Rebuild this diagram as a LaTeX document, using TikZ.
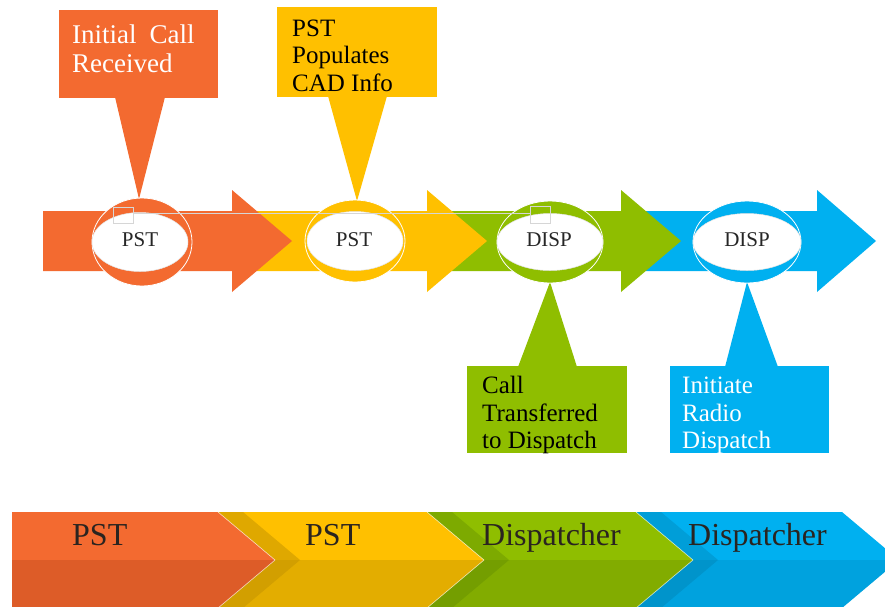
\documentclass[tikz,border=0pt]{standalone}
\usepackage{fontspec}
\setmainfont{Liberation Serif}
\definecolor{cor}{HTML}{F36A30}
\definecolor{cye}{HTML}{FFC000}
\definecolor{cgr}{HTML}{8FBE00}
\definecolor{cbl}{HTML}{00B0F0}
\definecolor{corD}{HTML}{DD5C28}
\definecolor{cyeD}{HTML}{E3AD00}
\definecolor{cgrD}{HTML}{82AC00}
\definecolor{cblD}{HTML}{00A2DE}
\definecolor{cyeS}{HTML}{DFA800}
\definecolor{cyeSD}{HTML}{D29F00}
\definecolor{cgrS}{HTML}{7DAA00}
\definecolor{cgrSD}{HTML}{749E00}
\definecolor{cblS}{HTML}{009ED8}
\definecolor{cblSD}{HTML}{0094CB}
\definecolor{seltone}{HTML}{D6D6D6}
\definecolor{bartext}{HTML}{2A2420}
\tikzset{
  calltext/.style={anchor=base west, inner sep=0pt, font=\fontsize{25}{28}\selectfont},
  bigcalltext/.style={anchor=base west, inner sep=0pt, font=\fontsize{27}{30}\selectfont, text=white},
  ringtext/.style={inner sep=0pt, font=\fontsize{21}{24}\selectfont, text=black!85},
  bartxt/.style={anchor=base west, inner sep=0pt, font=\fontsize{32}{38}\selectfont, text=bartext},
  edgeline/.style={draw=white, draw opacity=0.7, line width=0.6pt},
}
\begin{document}
\begin{tikzpicture}[x=1pt,y=-1pt]
\useasboundingbox (0,0) rectangle (885,606);
\clip (0,0) rectangle (885,606);
\fill[white] (0,0) rectangle (885,606);

% ---------- top arrows (drawn right to left so earlier heads overlap) ----------
\fill[cbl] (640,211) -- (817,211) -- (817,190) -- (876,241) -- (817,292) -- (817,271) -- (640,271) -- cycle;
\fill[cgr] (440,211) -- (621,211) -- (621,190) -- (681,241) -- (621,292) -- (621,271) -- (440,271) -- cycle;
\fill[cye] (240,211) -- (427,211) -- (427,190) -- (487,241) -- (427,292) -- (427,271) -- (240,271) -- cycle;
\fill[cor] (43,211) -- (232,211) -- (232,190) -- (292,241) -- (232,292) -- (232,271) -- (43,271) -- cycle;

% ---------- callouts ----------
\fill[cor] (59,10) rectangle (218,98);
\fill[cor] (115,97) -- (165,97) -- (139,199) -- cycle;
\fill[cye] (277,7) rectangle (437,97);
\fill[cye] (328,96) -- (387,96) -- (357,201) -- cycle;
\fill[cgr] (467,366) rectangle (627,453);
\fill[cgr] (550,282) -- (518,367) -- (577,367) -- cycle;
\fill[cbl] (670,366) rectangle (829,453);
\fill[cbl] (747,282) -- (725,367) -- (778,367) -- cycle;

% ---------- rings ----------
\fill[cor, draw=white, line width=0.8pt] (142,242) ellipse [x radius=50, y radius=44];
\fill[white, draw=white!90!black, line width=0.5pt] (140,242) ellipse [x radius=48, y radius=29.5];
\fill[cye, draw=white, line width=0.8pt] (355,241) ellipse [x radius=50, y radius=41];
\fill[white, draw=white!90!black, line width=0.5pt] (355,241) ellipse [x radius=48, y radius=29.5];
\fill[cgr, draw=white, line width=0.8pt] (550,242) ellipse [x radius=53, y radius=41];
\fill[white, draw=white!90!black, line width=0.5pt] (550,242) ellipse [x radius=53, y radius=28.5];
\fill[cbl, draw=white, line width=0.8pt] (747,242) ellipse [x radius=54, y radius=41];
\fill[white, draw=white!90!black, line width=0.5pt] (747,242) ellipse [x radius=54, y radius=28.5];

\node[ringtext] (r1) at (140,240) {PST};
\node[ringtext] (r2) at (354,240) {PST};
\node[ringtext] (r3) at (549,240) {DISP};
\node[ringtext] (r4) at (747,240) {DISP};

% ---------- selection marks ----------
\draw[seltone, line width=0.8pt] (133,213) -- (530,213);
\draw[seltone, line width=0.8pt] (113,207) rectangle (133,223);
\draw[seltone, line width=0.8pt] (530,206) rectangle (550,223);

% ---------- callout texts ----------
\node[bigcalltext] (o1) at (72,43) {Initial\hspace{13pt}Call};
\node[bigcalltext] (o2) at (72,72) {Received};
\node[calltext, text=black] (y1) at (292,36) {PST};
\node[calltext, text=black] (y2) at (292,63) {Populates};
\node[calltext, text=black] (y3) at (292,91) {CAD Info};
\node[calltext, text=black] (g1) at (482,393) {Call};
\node[calltext, text=black] (g2) at (482,421) {Transferred};
\node[calltext, text=black] (g3) at (482,448) {to Dispatch};
\node[calltext, text=white] (b1) at (682,393) {Initiate};
\node[calltext, text=white] (b2) at (682,421) {Radio};
\node[calltext, text=white] (b3) at (682,448) {Dispatch};

% ---------- bottom chevron bar ----------
% blue
\fill[cbl] (620,512) -- (842,512) -- (899,560) -- (620,560) -- cycle;
\fill[cblD] (620,560) -- (899,560) -- (842,608) -- (620,608) -- cycle;
\fill[cblS] (636,512) -- (661,512) -- (718,560) -- (693,560) -- cycle;
\fill[cblSD] (693,560) -- (718,560) -- (661,608) -- (636,608) -- cycle;
% green
\fill[cgr] (410,512) -- (636,512) -- (693,560) -- (410,560) -- cycle;
\fill[cgrD] (410,560) -- (693,560) -- (636,608) -- (410,608) -- cycle;
\draw[edgeline] (636,512) -- (693,560) -- (636,608);
\fill[cgrS] (427,512) -- (452,512) -- (509,560) -- (484,560) -- cycle;
\fill[cgrSD] (484,560) -- (509,560) -- (452,608) -- (427,608) -- cycle;
% yellow
\fill[cye] (200,512) -- (427,512) -- (484,560) -- (200,560) -- cycle;
\fill[cyeD] (200,560) -- (484,560) -- (427,608) -- (200,608) -- cycle;
\draw[edgeline] (427,512) -- (484,560) -- (427,608);
\fill[cyeS] (218,512) -- (243,512) -- (300,560) -- (275,560) -- cycle;
\fill[cyeSD] (275,560) -- (300,560) -- (243,608) -- (218,608) -- cycle;
% orange
\fill[cor] (12,512) -- (218,512) -- (275,560) -- (12,560) -- cycle;
\fill[corD] (12,560) -- (275,560) -- (218,608) -- (12,608) -- cycle;
\draw[edgeline] (218,512) -- (275,560) -- (218,608);

\node[bartxt] (p1) at (72,545) {PST};
\node[bartxt] (p2) at (305,545) {PST};
\node[bartxt] (d1) at (482,545) {Dispatcher};
\node[bartxt] (d2) at (688,545) {Dispatcher};
\end{tikzpicture}
\end{document}
